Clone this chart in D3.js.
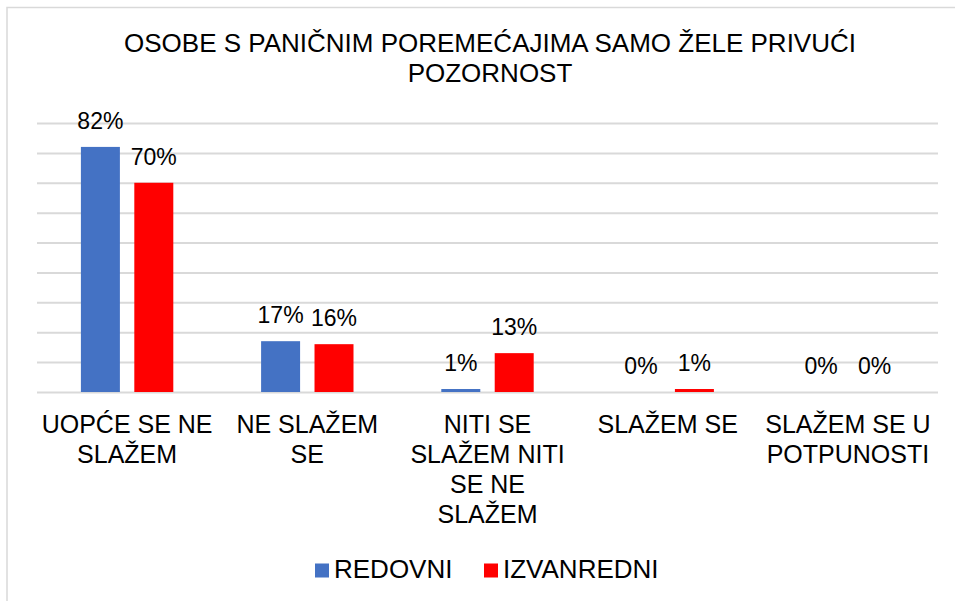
<!DOCTYPE html>
<html>
<head>
<meta charset="utf-8">
<script src="https://cdn.jsdelivr.net/npm/d3@7"></script>
<style>
  body { margin: 0; background: #fff; }
</style>
</head>
<body>
<script>
const w = 955;
const h = 601;
// no serif face renders in the sandbox, so stick to Liberation Sans
const font = "'Liberation Sans', Arial, sans-serif";

// data
const categories = ["UOPĆE SE NE SLAŽEM", "NE SLAŽEM SE", "NITI SE SLAŽEM NITI SE NE SLAŽEM", "SLAŽEM SE", "SLAŽEM SE U POTPUNOSTI"];
const categoryLines = [
    ["UOPĆE SE NE", "SLAŽEM"],
    ["NE SLAŽEM", "SE"],
    ["NITI SE", "SLAŽEM NITI", "SE NE", "SLAŽEM"],
    ["SLAŽEM SE"],
    ["SLAŽEM SE U", "POTPUNOSTI"]
];
const seriesNames = ["REDOVNI", "IZVANREDNI"];
const redovni = [0.82, 0.17, 0.01, 0.00, 0.00];
const izvanredni = [0.70, 0.16, 0.13, 0.01, 0.00];
const yTicks = [0, 0.1, 0.2, 0.3, 0.4, 0.5, 0.6, 0.7, 0.8, 0.9];
const titleLines = ["OSOBE S PANIČNIM POREMEĆAJIMA SAMO ŽELE PRIVUĆI", "POZORNOST"];

const colors = ["#4472c4", "#ff0000"];
const plot = {left: 37, right: 938, top: 123, bottom: 392};

const svg = d3.select("body")
    .append("svg")
    .attr("width", w)
    .attr("height", h)
    .style("font-family", font);

// chart border
svg.append("rect")
    .attr("x", 7)
    .attr("y", 7.5)
    .attr("width", 1000)
    .attr("height", 1000)
    .attr("fill", "none")
    .attr("stroke", "#d9d9d9")
    .attr("stroke-width", 1.5);

const xScale = d3.scaleBand()
    .domain(categories)
    .range([plot.left, plot.right]);

const x1 = d3.scaleBand()
    .domain(seriesNames)
    .range([xScale.bandwidth() / 2 - 46.2, xScale.bandwidth() / 2 + 46.2])
    .paddingInner(0.27);

const yScale = d3.scaleLinear()
    .domain([0, 0.9])
    .range([plot.bottom, plot.top]);

// gridlines
const yAxis = d3.axisLeft(yScale)
    .tickValues(yTicks)
    .tickSize(-(plot.right - plot.left))
    .tickFormat("");

svg.append("g")
    .attr("class", "grid")
    .attr("transform", "translate(" + plot.left + ",0)")
    .call(yAxis)
    .call(g => g.select(".domain").remove())
    .call(g => g.selectAll("line").attr("stroke", "#d9d9d9").attr("stroke-width", 2));

// bars
const rows = categories.map((c, i) => ({cat: c, values: [redovni[i], izvanredni[i]]}));

const groups = svg.selectAll("g.cat")
    .data(rows)
    .enter()
    .append("g")
    .attr("class", "cat")
    .attr("transform", d => "translate(" + xScale(d.cat) + ",0)");

groups.selectAll("rect")
    .data(d => d.values.map((v, j) => ({name: seriesNames[j], v: v, j: j})))
    .enter()
    .append("rect")
    .attr("x", d => x1(d.name))
    .attr("y", d => yScale(d.v))
    .attr("width", x1.bandwidth())
    .attr("height", d => plot.bottom - yScale(d.v))
    .attr("fill", d => colors[d.j]);

groups.selectAll("text.val")
    .data(d => d.values.map((v, j) => ({name: seriesNames[j], v: v, j: j})))
    .enter()
    .append("text")
    .attr("class", "val")
    .attr("x", d => x1(d.name) + x1.bandwidth() / 2)
    .attr("y", d => yScale(d.v) - 18)
    .attr("text-anchor", "middle")
    .attr("font-size", 23)
    .text(d => d3.format(".0%")(d.v));

// category labels
const xAxis = svg.append("g").attr("class", "xaxis");
categories.forEach(function(c, i) {
    const t = xAxis.append("text")
        .attr("text-anchor", "middle")
        .attr("font-size", 25)
        .attr("x", xScale(c) + xScale.bandwidth() / 2)
        .attr("y", 433);
    categoryLines[i].forEach(function(line, k) {
        t.append("tspan")
            .attr("x", xScale(c) + xScale.bandwidth() / 2)
            .attr("y", 433 + k * 30)
            .text(line);
    });
});

// title
svg.append("g")
    .selectAll("text")
    .data(titleLines)
    .enter()
    .append("text")
    .attr("x", 490)
    .attr("y", (d, i) => 52 + i * 30)
    .attr("text-anchor", "middle")
    .attr("font-size", 26)
    .text(d => d);

// legend
const legendX = [315, 484];
const legend = svg.append("g").attr("class", "legend");
seriesNames.forEach(function(name, i) {
    legend.append("rect")
        .attr("x", legendX[i])
        .attr("y", 563.5)
        .attr("width", 14)
        .attr("height", 14)
        .attr("fill", colors[i]);
    legend.append("text")
        .attr("x", legendX[i] + 19)
        .attr("y", 577.5)
        .attr("font-size", 26)
        .text(name);
});
</script>
</body>
</html>
